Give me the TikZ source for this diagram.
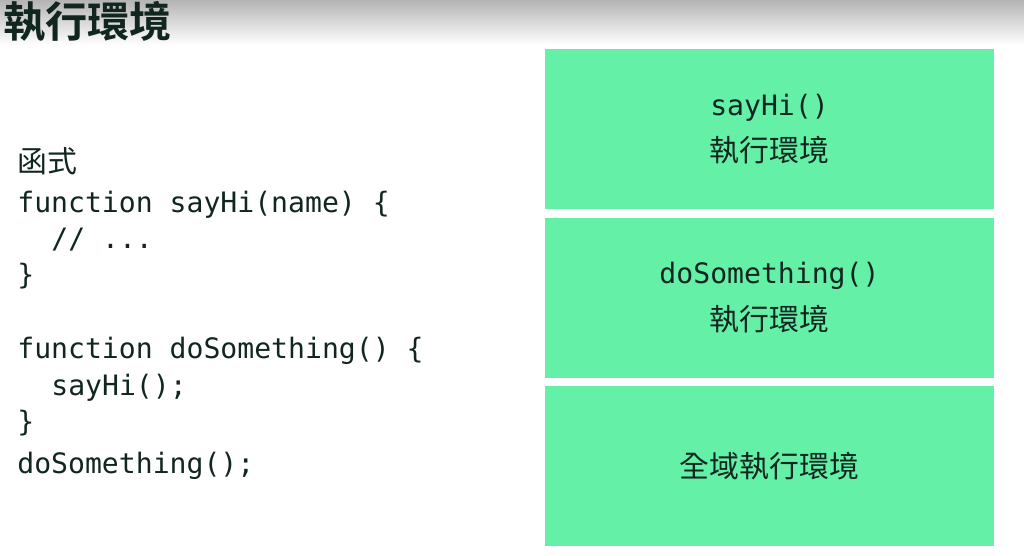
\documentclass[tikz,border=0pt]{standalone}
\usepackage{fontspec}
\setmonofont{DejaVu Sans Mono}
\newfontfamily\cjk{Noto Sans CJK TC}[BoldFont={Noto Sans CJK TC Bold}]
\usepackage{tikz}
\usetikzlibrary{positioning}
\definecolor{CtxGreen}{RGB}{100,240,167}
\definecolor{CtxInk}{RGB}{18,38,32}
\definecolor{CtxShade}{RGB}{180,180,180}

\begin{document}
\begin{tikzpicture}[
          ctx/.style={rectangle, fill=CtxGreen, inner sep=0pt,
                      minimum width=8.98cm, minimum height=3.2cm,
                      align=center, text=CtxInk,
                      font=\cjk\fontsize{17}{26.6}\selectfont},
          code/.style={anchor=base west, inner sep=0pt, text=CtxInk,
                       font=\ttfamily\fontsize{16}{20}\selectfont}
        ]
        \useasboundingbox (0,0) rectangle (20.48,11.1);
        % header band
        \shade[top color=CtxShade, bottom color=white]
              (0,11.1) rectangle (20.48,10.2);
        \node[anchor=west, inner sep=0pt, text=CtxInk,
              font=\cjk\bfseries\fontsize{24}{28}\selectfont]
              (title) at (0.06, 10.66) {執行環境};

        % code on the left
        \node[code, font=\cjk\fontsize{17}{20}\selectfont]
              (lbl) at (0.34, 7.66) {函式};
        \node[code] (ln1) at (0.34, 6.86) {function sayHi(name) \{};
        \node[code] (ln2) at (1.02, 6.14) {// ...};
        \node[code] (ln3) at (0.34, 5.42) {\}};
        \node[code] (ln4) at (0.34, 3.94) {function doSomething() \{};
        \node[code] (ln5) at (1.02, 3.20) {sayHi();};
        \node[code] (ln6) at (0.34, 2.48) {\}};
        \node[code] (ln7) at (0.34, 1.64) {doSomething();};

        % execution context stack
        \node[ctx] (hi)  at (15.39, 8.52)
              {{\ttfamily\fontsize{16}{20}\selectfont sayHi()}\\執行環境};
        \node[ctx, below=0.16cm of hi] (dos)
              {{\ttfamily\fontsize{16}{20}\selectfont doSomething()}\\執行環境};
        \node[ctx, below=0.16cm of dos] (glb) {全域執行環境};
      \end{tikzpicture}
\end{document}
